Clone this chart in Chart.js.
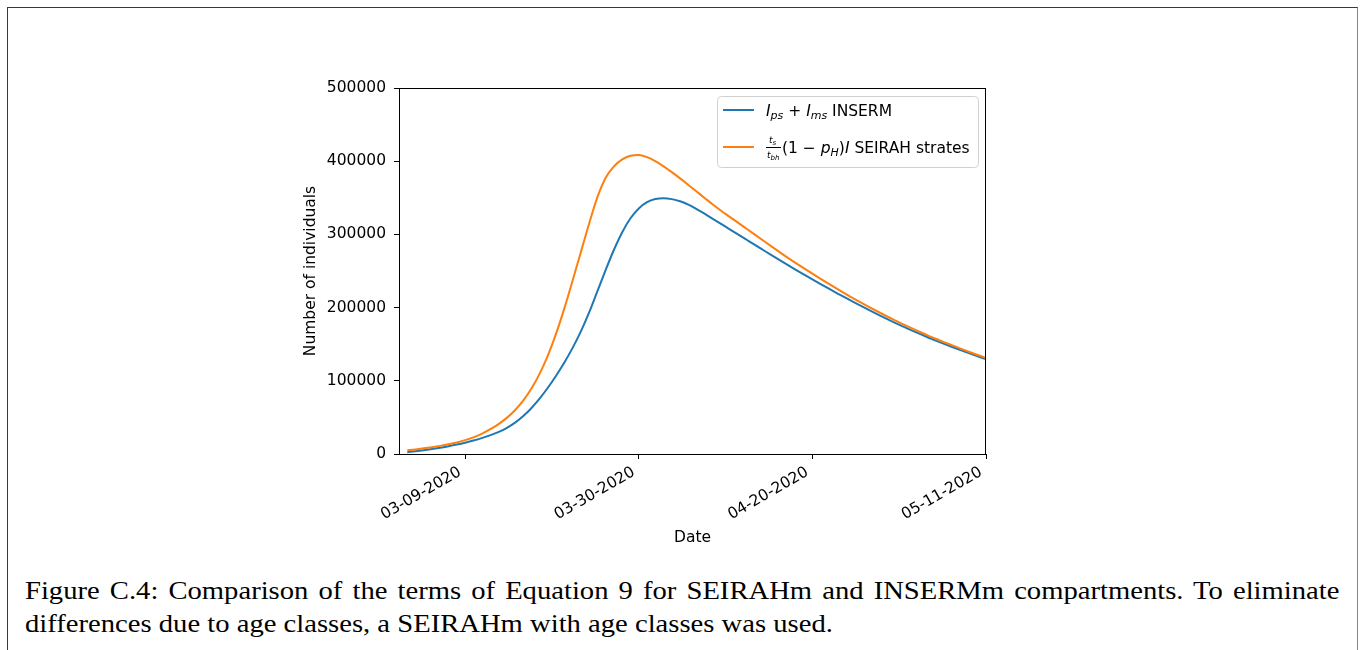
<!DOCTYPE html>
<html>
<head>
<meta charset="utf-8">
<script src="https://cdn.jsdelivr.net/npm/chart.js@4"></script>
<style>
    body { margin: 0; background: #fff; width: 1365px; height: 650px; overflow: hidden; position: relative; }
    #frame {
        position: absolute; left: 7px; top: 7px; width: 1349px; height: 700px;
        border-left: 1px solid #1f3e6c; border-top: 1px solid #1f3e6c; border-right: 1px solid #7088aa;
    }
    #chart-box { position: absolute; left: 0; top: 0; width: 1365px; height: 560px; }
    #caption {
        position: absolute; left: 25px; top: 574px; width: 1148px;
        transform: scaleX(1.145); transform-origin: 0 0;
        font-family: "Liberation Serif", serif; font-size: 25px; line-height: 33px; color: #000;
    }
    #caption .l1 { text-align: justify; text-align-last: justify; white-space: nowrap; }
</style>
</head>
<body>
<div id="frame"></div>
<div id="chart-box"><canvas id="c"></canvas></div>
<div id="caption">
    <div class="l1">Figure C.4: Comparison of the terms of Equation 9 for SEIRAHm and INSERMm compartments. To eliminate</div>
    <div>differences due to age classes, a SEIRAHm with age classes was used.</div>
</div>
<script>
// day 1 = 03-02-2020, day 71 = 05-11-2020
const inserm = [
    2500, 3800, 5200, 6800, 8600, 10600, 12900, 15500, 18400, 21700,
    25500, 30000, 35500, 42500, 51500, 62500, 75500, 90500, 107000, 125000,
    145000, 167500, 193500, 222500, 251500, 279000, 303000, 322000, 335500, 344000,
    348300, 349500, 348200, 345300, 340700, 334500, 328000, 321000, 314000, 307000,
    300000, 293000, 286000, 279000, 272000, 265100, 258300, 251600, 245000, 238500,
    232100, 225800, 219600, 213500, 207500, 201600, 195800, 190100, 184600, 179200,
    174000, 168900, 164000, 159200, 154600, 150100, 145800, 141600, 137500, 133500,
    129600
];
const seirah = [
    5000, 6300, 7700, 9300, 11100, 13200, 15700, 18900, 22700, 27500,
    33500, 40500, 49000, 59500, 72500, 89000, 109500, 134500, 164500, 199000,
    237000, 276000, 315000, 351000, 377500, 393000, 402500, 407500, 408500, 405500,
    400000, 393000, 385000, 376500, 367500, 358500, 349500, 340500, 332000, 324000,
    316000, 308000, 300000, 292000, 284000, 276100, 268300, 260800, 253500, 246300,
    239200, 232300, 225500, 218900, 212400, 206100, 200000, 194000, 188200, 182600,
    177200, 171900, 166800, 161800, 157100, 152500, 148100, 143700, 139400, 135200,
    131100
];
const days = inserm.map((v, i) => i + 1);
const tickDays = [8, 29, 50, 71];
const tickLabels = ["03-09-2020", "03-30-2020", "04-20-2020", "05-11-2020"];
const yTicks = [0, 100000, 200000, 300000, 400000, 500000];

const FONT = "DejaVu Sans";
const FS = 15.5;

function runs(ctx, x, y, list) {
    list.forEach(function(r) {
        ctx.font = (r.it ? "italic " : "") + (r.size || FS) + "px " + FONT;
        ctx.fillText(r.t, x, y + (r.dy || 0));
        x += ctx.measureText(r.t).width;
    });
    return x;
}

// рамка осей и легенда в стиле matplotlib
const framePlugin = {
    id: "frame",
    afterDatasetsDraw(chart) {
        const a = chart.chartArea, ctx = chart.ctx;
        ctx.save();
        ctx.strokeStyle = "#000";
        ctx.lineWidth = 1;
        ctx.strokeRect(a.left + 0.5, a.top + 0.5, a.right - a.left - 1, a.bottom - a.top);

        const bx = a.right - 269, by = a.top + 8, bw = 261, bh = 71;
        ctx.beginPath();
        ctx.roundRect(bx + 0.5, by + 0.5, bw, bh, 4);
        ctx.fillStyle = "rgba(255,255,255,0.8)";
        ctx.fill();
        ctx.strokeStyle = "#d0d0d0";
        ctx.stroke();

        const ds = chart.data.datasets;
        [[ds[0], by + 14], [ds[1], by + 51]].forEach(function(p) {
            ctx.beginPath();
            ctx.moveTo(bx + 6, p[1]);
            ctx.lineTo(bx + 37, p[1]);
            ctx.strokeStyle = p[0].borderColor;
            ctx.lineWidth = 2;
            ctx.stroke();
        });

        ctx.fillStyle = "#000";
        ctx.textBaseline = "alphabetic";
        const tx = bx + 49;
        runs(ctx, tx, by + 20, [
            {t: "I", it: true}, {t: "ps", it: true, size: 11, dy: 3},
            {t: " + "}, {t: "I", it: true}, {t: "ms", it: true, size: 11, dy: 3},
            {t: " INSERM"}
        ]);
        // дробь t_s / t_bh
        runs(ctx, tx + 3, by + 47, [{t: "t", it: true, size: 9}, {t: "s", it: true, size: 7, dy: 2}]);
        runs(ctx, tx + 1, by + 62, [{t: "t", it: true, size: 9}, {t: "bh", it: true, size: 7, dy: 2}]);
        ctx.fillRect(tx, by + 51, 15, 1);
        runs(ctx, tx + 16, by + 57, [
            {t: "(1 \u2212 "}, {t: "p", it: true}, {t: "H", it: true, size: 11, dy: 3},
            {t: ")"}, {t: "I", it: true}, {t: " SEIRAH strates"}
        ]);
        ctx.restore();
    }
};

const ctx = document.getElementById("c").getContext("2d");
new Chart(ctx, {
    type: "line",
    data: {
        datasets: [
            {
                label: "Ips + Ims INSERM",
                data: days.map((d, i) => ({x: d, y: inserm[i]})),
                borderColor: "#1f77b4",
                borderWidth: 2,
                pointRadius: 0,
                cubicInterpolationMode: "monotone",
                order: 1
            },
            {
                label: "ts/tbh (1 \u2212 pH)I SEIRAH strates",
                data: days.map((d, i) => ({x: d, y: seirah[i]})),
                borderColor: "#ff7f0e",
                borderWidth: 2,
                pointRadius: 0,
                cubicInterpolationMode: "monotone",
                order: 0
            }
        ]
    },
    options: {
        responsive: true,
        maintainAspectRatio: false,
        animation: false,
        layout: { padding: { left: 298, top: 88, right: 379, bottom: 9 } },
        plugins: { legend: { display: false }, tooltip: { enabled: false } },
        scales: {
            x: {
                type: "linear",
                min: 0,
                max: 71,
                afterFit: function(s) { s.height = 97; },
                afterBuildTicks: function(s) { s.ticks = tickDays.map(v => ({value: v})); },
                border: { display: false },
                grid: { drawOnChartArea: false, drawTicks: true, tickLength: 5, color: "#000" },
                ticks: {
                    autoSkip: false,
                    minRotation: 30,
                    maxRotation: 30,
                    padding: 4,
                    labelOffset: -5,
                    color: "#000",
                    font: { family: FONT, size: FS },
                    callback: function(v) { return tickLabels[tickDays.indexOf(v)]; }
                },
                title: { display: true, text: "Date", color: "#000", font: { family: FONT, size: FS } }
            },
            y: {
                min: 0,
                max: 500000,
                afterFit: function(s) { s.width = 101; },
                afterBuildTicks: function(s) { s.ticks = yTicks.map(v => ({value: v})); },
                border: { display: false },
                grid: { drawOnChartArea: false, drawTicks: true, tickLength: 5, color: "#000" },
                ticks: {
                    color: "#000",
                    padding: 8,
                    font: { family: FONT, size: FS },
                    callback: function(v) { return String(v); }
                },
                title: { display: true, text: "Number of individuals", color: "#000", font: { family: FONT, size: FS } }
            }
        }
    },
    plugins: [framePlugin]
});
</script>
</body>
</html>
